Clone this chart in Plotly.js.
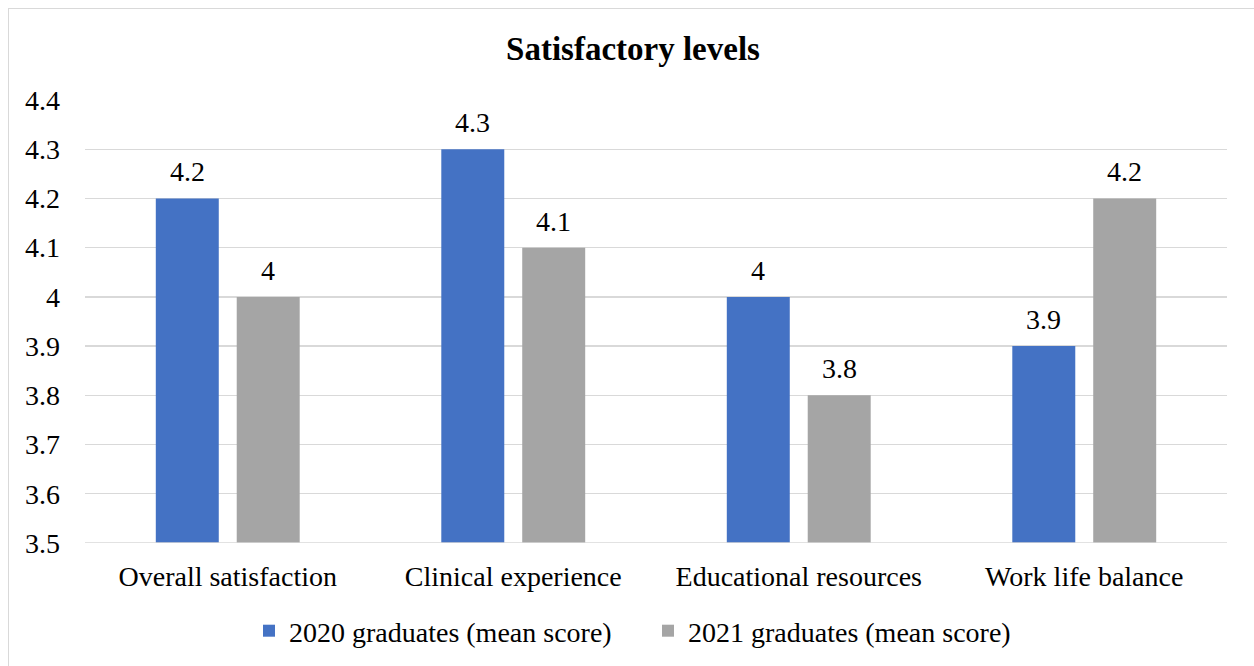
<!DOCTYPE html>
<html><head><meta charset="utf-8">
<script src="https://cdn.plot.ly/plotly-3.0.1.min.js"></script>
<style>
html,body{margin:0;padding:0;background:#fff;overflow:hidden;}
#wrap{position:absolute;left:0;top:0;width:1254px;height:666px;overflow:hidden;}
#frame{position:absolute;left:8px;top:8px;width:1300px;height:700px;border:1px solid #d9d9d9;pointer-events:none;}
#chart{width:1254px;height:666px;}
</style></head>
<body>
<div id="wrap"><div id="chart"></div><div id="frame"></div></div>
<script>
const categories = ["Overall satisfaction", "Clinical experience", "Educational resources", "Work life balance"];
const series2020 = [4.2, 4.3, 4.0, 3.9];
const series2021 = [4.0, 4.1, 3.8, 4.2];
const seriesNames = ["2020 graduates (mean score)", "2021 graduates (mean score)"];
const seriesColors = ["#4472c4", "#a5a5a5"];
const yTicks = [3.5, 3.6, 3.7, 3.8, 3.9, 4.0, 4.1, 4.2, 4.3, 4.4];
const yTickText = ["3.5", "3.6", "3.7", "3.8", "3.9", "4", "4.1", "4.2", "4.3", "4.4"];

const fnt = '"Liberation Serif", "Times New Roman", serif';
const FS = 28;

const traces = [series2020, series2021].map((vals, k) => ({
  type:"bar", name:seriesNames[k], x:categories, y:vals,
  marker:{color:seriesColors[k]}, hoverinfo:"none"
}));

const annotations = [];
[series2020, series2021].forEach((vals, k) => {
  vals.forEach((v, i) => {
    annotations.push({xref:"x", yref:"y", x:categories[i], y:v, text:String(v),
      showarrow:false, yanchor:"bottom", xanchor:"center",
      xshift:(k === 0 ? -40.5 : 40.5), yshift:9,
      font:{family:fnt, size:FS, color:"#000"}});
  });
});

const layout = {
  width:1254, height:666,
  margin:{l:85, r:27, t:100, b:123},
  paper_bgcolor:"#fff", plot_bgcolor:"#fff",
  font:{family:fnt, size:FS, color:"#000"},
  title:{text:"<b>Satisfactory levels</b>", font:{family:fnt,size:33,color:"#000"},
         x:633/1254, xanchor:"center", xref:"container", y:1-48/666, yanchor:"middle", yref:"container"},
  barmode:"group", bargap:0.433, bargroupgap:0.222,
  xaxis:{tickfont:{family:fnt,size:FS,color:"#000"}, showgrid:false, showline:false, ticks:"",
         automargin:false, ticklabelstandoff:14},
  yaxis:{range:[3.5,4.4], tickvals:yTicks, ticktext:yTickText, tickfont:{family:fnt,size:FS,color:"#000"},
         showgrid:true, gridcolor:"#d9d9d9", gridwidth:1.3, zeroline:false, showline:false, ticks:"",
         ticklabelstandoff:24, automargin:false},
  showlegend:true,
  legend:{orientation:"h", x:648/1254, xanchor:"center", xref:"container", y:1-631/666, yanchor:"middle", yref:"container",
          font:{family:fnt,size:FS,color:"#000"}, traceorder:"normal", itemwidth:30,
          entrywidth:354, entrywidthmode:"pixels"},
  annotations:annotations,
  shapes:[{type:"line", xref:"paper", yref:"y", x0:0, x1:1, y0:3.5, y1:3.5, line:{color:"#d9d9d9", width:1.3}}]
};
Plotly.newPlot("chart", traces, layout, {displayModeBar:false, staticPlot:true});
</script>
</body></html>
